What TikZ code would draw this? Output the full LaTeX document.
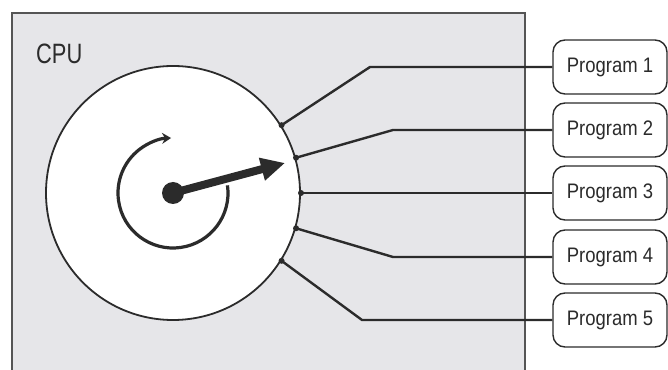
\documentclass[tikz,border=0pt]{standalone}
\usepackage{fontspec}
\setmainfont{Liberation Sans}
\newfontfamily\cpufont[FakeStretch=0.78]{Liberation Sans}
\newfontfamily\progfont[FakeStretch=0.88]{Liberation Sans}
\usetikzlibrary{arrows.meta,calc}
\definecolor{ink}{HTML}{2B2B2B}
\definecolor{panel}{HTML}{E6E6E9}
\begin{document}
\begin{tikzpicture}[x=1pt,y=1pt,
  prog/.style={draw=ink, line width=1.4pt, rounded corners=12pt, fill=white,
    minimum width=114pt, minimum height=54pt, inner sep=0pt,
    font=\progfont\fontsize{21}{24}\selectfont, text=ink},
  wire/.style={draw=ink, line width=2.4pt},
  pin/.style={fill=ink}]
\useasboundingbox (0,0) rectangle (668,369);
% CPU panel
\draw[draw=ink!80, line width=1.5pt, fill=panel] (12,-10) -- (12,356) -- (525,356) -- (525,-10);
\node[font=\cpufont\fontsize{28}{30}\selectfont, text=ink, anchor=base west, inner sep=0pt] (cpu) at (36,305) {CPU};
% disc
\coordinate (C) at (173,176);
\draw[ink, line width=1.8pt, fill=white] (C) circle[radius=127];
% attachment points
\foreach \i/\a in {1/32,2/16,3/0,4/-16,5/-32}{
  \coordinate (p\i) at ($(C)+(\a:128)$);
}
% program boxes
\node[prog] (g1) at (610,302) {Program 1};
\node[prog] (g2) at (610,239) {Program 2};
\node[prog] (g3) at (610,176) {Program 3};
\node[prog] (g4) at (610,112) {Program 4};
\node[prog] (g5) at (610,49) {Program 5};
\coordinate (b1) at (370,302);
\coordinate (b2) at (393,239);
\coordinate (b4) at (393,112);
\coordinate (b5) at (362,49);
\draw[wire] (p1) -- (b1) -- (g1.west);
\draw[wire] (p2) -- (b2) -- (g2.west);
\draw[wire] (p3) -- (g3.west);
\draw[wire] (p4) -- (b4) -- (g4.west);
\draw[wire] (p5) -- (b5) -- (g5.west);
\foreach \i in {1,...,5}{\fill[pin] (p\i) circle[radius=3];}
% rotation arc
\draw[ink, line width=3.2pt, -{Stealth[length=9pt,width=11pt]}] ([shift={(8:55)}]C) arc[start angle=8, end angle=-268, radius=55];
% pointer
\coordinate (tip) at ($(C)+(15:116)$);
\draw[ink, line width=8pt, -{Triangle[length=24pt,width=22pt]}] (C) -- (tip);
\fill[ink] (C) circle[radius=11];
\end{tikzpicture}
\end{document}
